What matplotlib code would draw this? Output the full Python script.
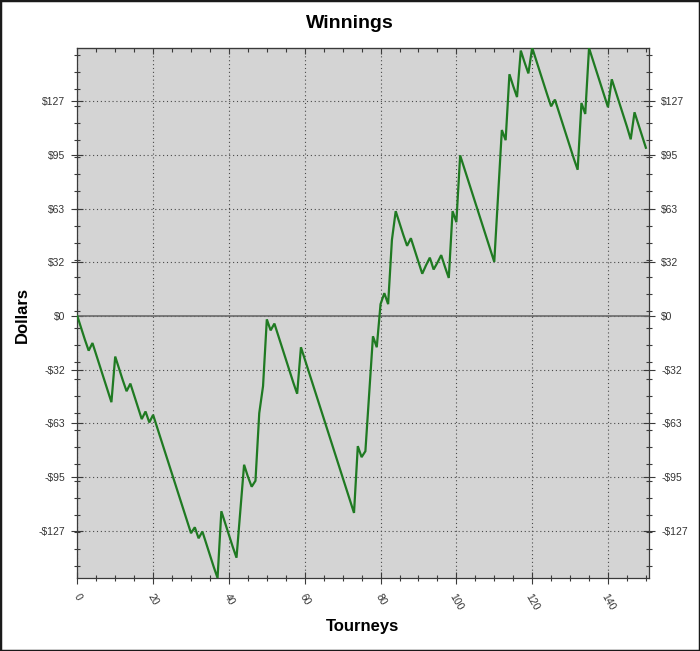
import numpy as np
import matplotlib
matplotlib.use("Agg")
import matplotlib.pyplot as plt
from matplotlib.patches import Rectangle

plt.rcParams['font.family'] = ['Liberation Sans', 'DejaVu Sans']

# ---- data ----
tourneys = list(range(0, 151))
winnings = [
    0, -7, -14, -20.5, -16, -23, -30, -37, -44, -51,
    -24, -31, -38, -44.5, -40, -47, -54, -61, -56.5, -63,
    -58.5, -65.5, -72.5, -79.5, -86.5, -93.5, -100.5, -107.5, -114.5, -121.5,
    -128.5, -125, -131.5, -127.5, -134.5, -141.5, -148.5, -155, -115.5, -122.5,
    -129.5, -136.5, -143, -115.5, -88, -95, -101, -97.5, -57.5, -41.5,
    -2, -8.5, -4.5, -11.5, -18.5, -25.5, -32.5, -39.5, -46, -18.5,
    -25.5, -32.5, -39.5, -46.5, -53.5, -60.5, -67.5, -74.5, -81.5, -88.5,
    -95.5, -102.5, -109.5, -116.5, -77, -83.5, -80, -46, -12, -18.5,
    7, 13.5, 7, 45, 62, 55, 48, 41.5, 46, 39,
    32, 25, 30, 34.5, 27.5, 31.5, 36, 29, 22.5, 62,
    55.5, 95, 88, 81, 74, 67, 60, 53, 46, 39,
    32, 71, 110, 104, 143, 136, 129.5, 157, 150, 143.5,
    158.7, 151.7, 144.7, 137.7, 130.7, 124, 128, 121, 114, 107,
    100, 93, 86.5, 126, 119.5, 158.5, 151.5, 144.5, 137.5, 130.5,
    123.5, 140, 133, 126, 119, 112, 104.5, 120.5, 113.5, 106.5,
    99.5,
]
x_ticks = [0, 20, 40, 60, 80, 100, 120, 140]
x_tick_labels = [str(v) for v in x_ticks]
y_ticks = [-127, -95.25, -63.5, -31.75, 0, 31.75, 63.5, 95.25, 127]
y_tick_labels = ["-$127", "-$95", "-$63", "-$32", "$0", "$32", "$63", "$95", "$127"]

W, H = 700, 651
fig = plt.figure(figsize=(W / 100, H / 100), dpi=100)
L, R, T, B = 77.3, 649.3, 47.7, 578.0
ax = fig.add_axes([L / W, 1 - B / H, (R - L) / W, (B - T) / H])
ax.set_facecolor('#d4d4d4')

ax.plot(tourneys, winnings, color='#1f7a22', lw=1.6, zorder=4, solid_joinstyle='miter')
ax.axhline(0, color='#6a6a6a', lw=1.2, zorder=3)

ax.set_xlim(0, 150.9)
ax.set_ylim(min(winnings), max(winnings))

ax.set_xticks(x_ticks)
ax.set_xticklabels(x_tick_labels, rotation=-60, ha='center', va='top')
ax.set_xticks(np.arange(0, 151, 5), minor=True)
ax.set_yticks(y_ticks)
ax.set_yticklabels(y_tick_labels)
ax.set_yticks(np.arange(-147.9, 158, 10.07), minor=True)

tc = '#3a3a3a'
ax.tick_params(axis='both', which='major', direction='inout', length=8, width=0.8,
               color=tc, labelsize=7.5, labelcolor='#333333')
ax.tick_params(axis='both', which='minor', direction='inout', length=4.5, width=0.8, color=tc)
ax.tick_params(axis='y', which='both', right=True, labelright=True, pad=4.5)
ax.tick_params(axis='x', which='major', pad=6)

sec = ax.secondary_xaxis('top')
sec.set_xticks(x_ticks)
sec.set_xticks(np.arange(0, 151, 5), minor=True)
sec.tick_params(which='major', direction='in', length=4, width=0.8, color=tc, labeltop=False)
sec.tick_params(which='minor', direction='in', length=3, width=0.8, color=tc)
sec.spines['top'].set_color(tc)

ax.grid(True, which='major', linestyle=(0, (1, 2.5)), color='#4a4a4a', lw=0.8, zorder=1)
ax.set_axisbelow(True)
for s in ax.spines.values():
    s.set_color(tc)
    s.set_linewidth(0.9)

fig.text(350 / W, 1 - 23 / H, 'Winnings', ha='center', va='center', fontsize=14, weight='bold')
fig.text(363 / W, 1 - 627 / H, 'Tourneys', ha='center', va='center', fontsize=12, weight='bold')
fig.text(22 / W, 1 - 315 / H, 'Dollars', ha='center', va='center', rotation=90, fontsize=12, weight='bold')

fig.patches.append(Rectangle((0, 0), 1, 1, transform=fig.transFigure, fill=False,
                             lw=2.5, ec='#1a1a1a'))

fig.savefig('out.png', dpi=100, facecolor='white')
